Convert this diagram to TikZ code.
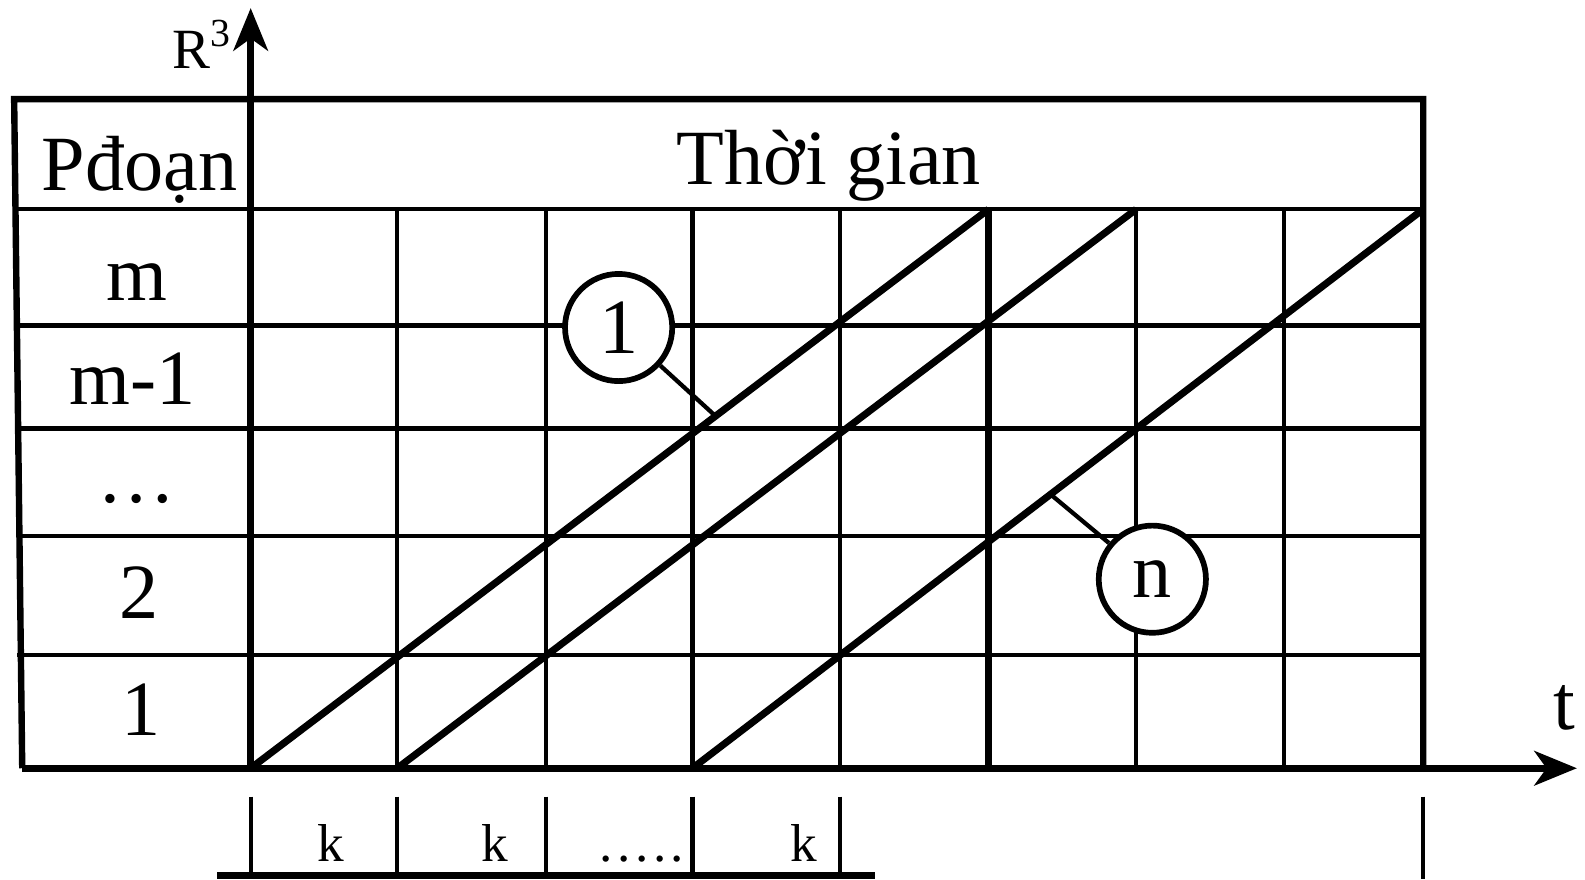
\documentclass[tikz,border=0pt]{standalone}
\usepackage{fontspec}
\setmainfont{Liberation Serif}
\usetikzlibrary{arrows.meta}

\begin{document}
\begin{tikzpicture}[
  x=0.01cm, y=-0.01cm, >=Stealth, font=\fontsize{22}{26}\selectfont,
  grid/.style={line width=1.2pt},
  frame/.style={line width=1.8pt},
  axis/.style={->, line width=2pt, >={Stealth[length=4.2mm,width=3.4mm,inset=1.2mm]}},
  phase/.style={line width=2pt},
  tag/.style={circle, draw, line width=1.6pt, fill=white, minimum size=10.6mm, inner sep=0pt},
  lead/.style={line width=1.2pt},
  small/.style={font=\fontsize{15}{17}\selectfont},
]
  \useasboundingbox (0,0) rectangle (1568,870);

  % table frame and grid
  \draw[frame] (22,760) -- (14,98) -- (1408,98) -- (1408,760);
  \draw[grid] (14,207) -- (1408,207);
  \foreach \y in {322,424,530,648} {\draw[grid] (17,\y) -- (1408,\y);}
  \foreach \x in {393,540,685,831,1124,1270} {\draw[grid] (\x,207) -- (\x,760);}
  \draw[frame] (978,207) -- (978,760);

  % axes
  \coordinate (O) at (248,760);
  \draw[axis] (22,760) -- (1560,760);
  \node[anchor=base] (t) at (1548,722) {t};
  \draw[axis] (O) -- (248,8);
  \node[anchor=base, font=\fontsize{16}{18}\selectfont] (R) at (200,68) {R\textsuperscript{3}};

  % headers and row labels
  \node[anchor=base] (Pd) at (138,188) {Pđoạn};
  \node[anchor=base] (TG) at (820,183) {Thời gian};
  \node[anchor=base] (rm)  at (135,297) {m};
  \node[anchor=base] (rm1) at (131,400) {m-1};
  \node[anchor=base] (rd)  at (135,497) {\dots};
  \node[anchor=base] (r2)  at (138,612) {2};
  \node[anchor=base] (r1)  at (140,728) {1};

  % flow lines
  \coordinate (a1) at (248,760);  \coordinate (b1) at (978,207);
  \coordinate (a2) at (393,760);  \coordinate (b2) at (1124,207);
  \coordinate (a3) at (685,760);  \coordinate (b3) at (1408,207);
  \draw[phase] (a1) -- (b1) coordinate[pos=0.63] (p1);
  \draw[phase] (a2) -- (b2);
  \draw[phase] (a3) -- (b3) coordinate[pos=0.49] (pn);

  \node[tag] (c1) at (612,324) {1};
  \node[tag] (cn) at (1140,573) {n};
  \draw[lead] (c1) -- (p1);
  \draw[lead] (cn) -- (pn);

  % step marks below
  \foreach \x in {248,393,540,685,831} {\draw[grid] (\x,788) -- (\x,866);}
  \draw[grid] (1408,788) -- (1408,870);
  \draw[frame] (215,866) -- (866,866);
  \node[anchor=base, small] (k1) at (327,852) {k};
  \node[anchor=base, small] (k2) at (490,852) {k};
  \node[anchor=base, small] (kd) at (635,852) {.\kern0.45mm.\kern0.45mm.\kern0.45mm.\kern0.45mm.};
  \node[anchor=base, small] (k3) at (795,852) {k};
\end{tikzpicture}
\end{document}
